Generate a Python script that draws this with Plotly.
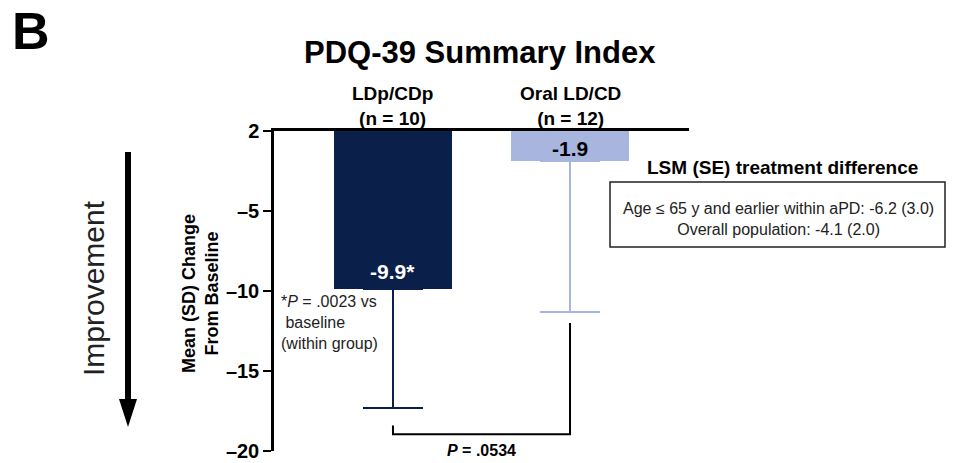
import plotly.graph_objects as go

# ---- data ----
groups = ["LDp/CDp", "Oral LD/CD"]
n_labels = ["(n = 10)", "(n = 12)"]
means = [-9.9, -1.9]
sds = [7.4, 9.4]
value_labels = ["-9.9*", "-1.9"]
tick_vals = [0, -5, -10, -15, -20]
tick_text = ["2", "\u20135", "\u201310", "\u201315", "\u201320"]
bar_colors = ["#0b1f4b", "#a8b5de"]
label_colors = ["white", "black"]
p_between = ".0534"
p_within = ".0023"
lsm_lines = ["Age \u2264 65 y and earlier within aPD: -6.2 (3.0)",
             "Overall population: -4.1 (2.0)"]

FONT = "Arial, Liberation Sans, sans-serif"
W, H = 955, 463
L, R, T, B = 274, 266, 131, 12
PW, PH = W - L - R, H - T - B


def px(x):
    return (x - L) / PW


def py(y):
    return (H - B - y) / PH


def text_ann(x, y, text, size, color="black", xref="paper", yref="paper",
             xanchor="center", yanchor="middle", **kw):
    d = dict(x=x, y=y, xref=xref, yref=yref, text=text, showarrow=False,
             xanchor=xanchor, yanchor=yanchor,
             font=dict(family=FONT, size=size, color=color))
    d.update(kw)
    return d


fig = go.Figure()
xpos = list(range(len(groups)))
for i in xpos:
    fig.add_trace(go.Bar(
        x=[xpos[i]], y=[means[i]], width=0.667,
        marker=dict(color=bar_colors[i], line=dict(width=0)),
        error_y=dict(type="data", symmetric=False, array=[0], arrayminus=[sds[i]],
                     color=bar_colors[i], thickness=2, width=30),
        showlegend=False, hoverinfo="skip",
    ))

ann = []
# bar value labels
for i in xpos:
    yv = means[i] + 1.1 if i == 0 else means[i] / 2 - 0.15
    ann.append(text_ann(xpos[i], yv, "<b>%s</b>" % value_labels[i], 21,
                        color=label_colors[i], xref="x", yref="y"))
    ann.append(text_ann(xpos[i], py(106), "<b>%s<br>%s</b>" % (groups[i], n_labels[i]), 19,
                        xref="x"))

# title & panel letter
ann.append(text_ann(px(480), py(52), "<b>PDQ-39 Summary Index</b>", 31))
ann.append(text_ann(px(10), py(31), "<b>B</b>", 52, xanchor="left"))

# y axis title
ann.append(text_ann(px(200), py(294), "<b>Mean (SD) Change<br>From Baseline</b>", 18,
                    textangle=-90))
# Improvement
ann.append(text_ann(px(93), py(288), "Improvement", 30, color="#222", textangle=-90))

# within-group p note
ann.append(text_ann(px(279), py(322), "*<i>P</i> = %s vs<br> baseline<br>(within group)" % p_within,
                    16, color="#222", xanchor="left", align="left"))

# between-group p
ann.append(text_ann(0.5, py(450), "<b><i>P</i> = %s</b>" % p_between, 16, xref="x"))

# LSM box
ann.append(text_ann(px(782), py(167), "<b>LSM (SE) treatment difference</b>", 19))
ann.append(text_ann(px(778), py(219), "<br>".join(lsm_lines), 16, color="#222"))

shapes = []
# box
shapes.append(dict(type="rect", xref="paper", yref="paper", x0=px(610), x1=px(945),
                   y0=py(182), y1=py(247), line=dict(color="#222", width=1.5)))
# bracket
shapes.append(dict(type="path", xref="x", yref="y",
                   path="M 0 -18.4 L 0 -18.95 L 1 -18.95 L 1 -12.0",
                   line=dict(color="black", width=2)))
# arrow
shapes.append(dict(type="line", xref="paper", yref="paper", x0=px(128), x1=px(128),
                   y0=py(152), y1=py(402), line=dict(color="black", width=6)))
shapes.append(dict(type="path", xref="paper", yref="paper",
                   path="M %f %f L %f %f L %f %f Z" % (px(119), py(399), px(137), py(399), px(128), py(427)),
                   fillcolor="black", line=dict(color="black", width=0)))

fig.update_layout(
    width=W, height=H, margin=dict(l=L, r=R, t=T, b=B, autoexpand=False),
    paper_bgcolor="white", plot_bgcolor="white",
    annotations=ann, shapes=shapes, bargap=0,
    xaxis=dict(range=[-0.672, 1.672], side="top", showline=True, linecolor="black", linewidth=2.5,
               showticklabels=False, ticks="", showgrid=False, zeroline=False, fixedrange=True,
               automargin=False),
    yaxis=dict(range=[-20, 0], tickvals=tick_vals, ticktext=tick_text, showline=True,
               linecolor="black", linewidth=2.5, ticks="outside", ticklen=8, tickwidth=2,
               tickcolor="black", showgrid=False, zeroline=False, automargin=False,
               tickfont=dict(family=FONT, size=20, color="black", weight="bold"), fixedrange=True),
)

fig.write_html("out.html")
